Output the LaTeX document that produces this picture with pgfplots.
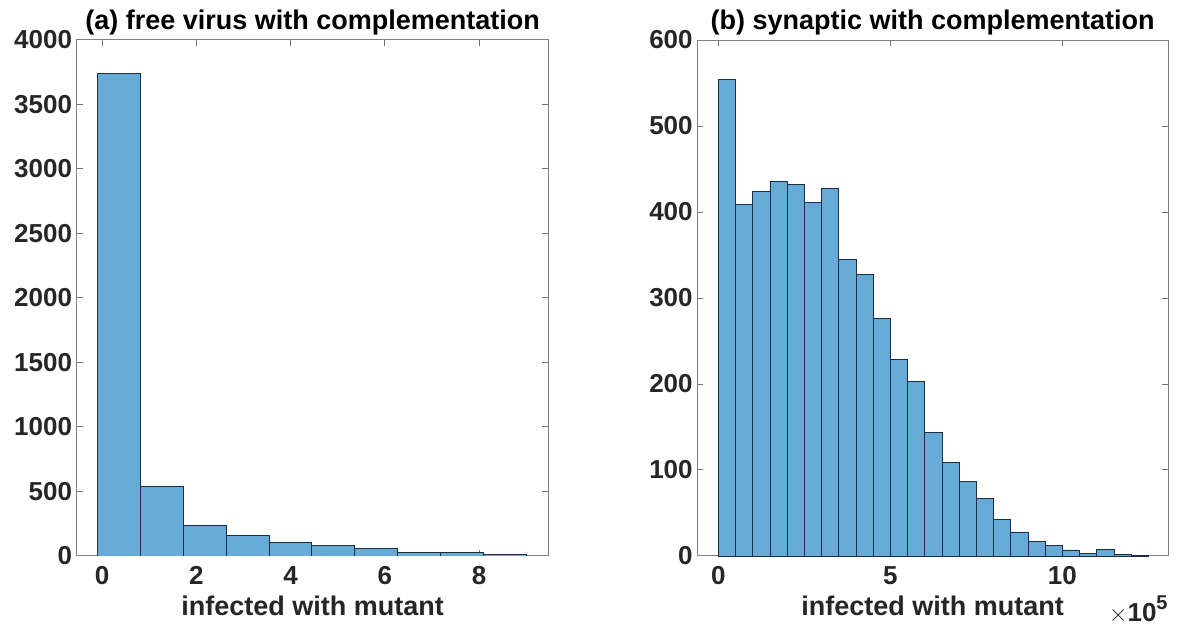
\documentclass[border=0pt]{standalone}
\usepackage{fontspec}
\setmainfont{Liberation Sans}
\usepackage{pgfplots}
\pgfplotsset{compat=1.18}
\definecolor{barblue}{RGB}{102,170,215}
\definecolor{baredge}{RGB}{30,45,60}
\definecolor{axgray}{RGB}{38,38,38}

\pgfplotsset{
 myaxis/.style={
  scale only axis, anchor=south west,
  height=258pt,
  axis line style={draw=black!50, line width=0.5pt},
  tick align=inside,
  major tick length=3pt,
  every tick/.style={draw=black!55, line width=0.5pt},
  tick label style={font=\bfseries\fontsize{13}{13}\selectfont, text=axgray},
  /pgf/number format/assume math mode=true,
  /pgf/number format/1000 sep={},
  xticklabel style={yshift=-1.7pt},
  yticklabel style={xshift=1.2pt},
  title style={at={(axis description cs:0.5,1)}, anchor=base, yshift=-0.7pt, font=\bfseries\fontsize{13.5}{14}\selectfont},
  xlabel style={at={(axis description cs:0.5,0)}, anchor=base, yshift=-30pt, font=\bfseries\fontsize{13.5}{14}\selectfont, text=axgray},
  ymin=0,
 },
 histbar/.style={ybar interval, fill=barblue, draw=baredge, line width=0.4pt},
}

\begin{document}
\begin{tikzpicture}
\path[use as bounding box] (0,0) rectangle (591.5pt,313pt);

\begin{axis}[myaxis, at={(38.35pt,35pt)}, width=235.9pt,
  xmin=-0.54, xmax=9.47, ymax=4000,
  xtick={0,2,4,6,8}, ytick={0,500,1000,1500,2000,2500,3000,3500,4000},
  title={(a) free virus with complementation},
  xlabel={infected with mutant}]
\addplot[histbar] coordinates {
(-0.10,3740) (0.81,537) (1.72,238) (2.63,160) (3.54,108)
(4.45,83) (5.36,57) (6.27,29) (7.18,30) (8.09,13) (9.00,13)
};
\end{axis}

\begin{axis}[myaxis, at={(348.65pt,35pt)}, width=235.35pt, clip=false,
  xmin=-0.61, xmax=13.07, ymax=600,
  xtick={0,5,10}, ytick={0,100,200,300,400,500,600},
  title={(b) synaptic with complementation},
  xlabel={infected with mutant}]
\addplot[histbar] coordinates {
(0.0,554) (0.5,409) (1.0,424) (1.5,436) (2.0,432) (2.5,411)
(3.0,428) (3.5,345) (4.0,327) (4.5,276) (5.0,229) (5.5,203)
(6.0,144) (6.5,109) (7.0,87) (7.5,67) (8.0,43) (8.5,28)
(9.0,17) (9.5,12) (10.0,7) (10.5,3) (11.0,8) (11.5,2) (12.0,1) (12.5,1)
};
\node[anchor=base east, text=axgray, inner sep=0pt] at (rel axis cs:1,0) [xshift=0pt, yshift=-32.5pt]
  {\fontsize{13}{13}\selectfont$\times$\bfseries 10\raisebox{5.5pt}{\fontsize{10}{10}\selectfont\bfseries 5}};
\end{axis}
\end{tikzpicture}
\end{document}
